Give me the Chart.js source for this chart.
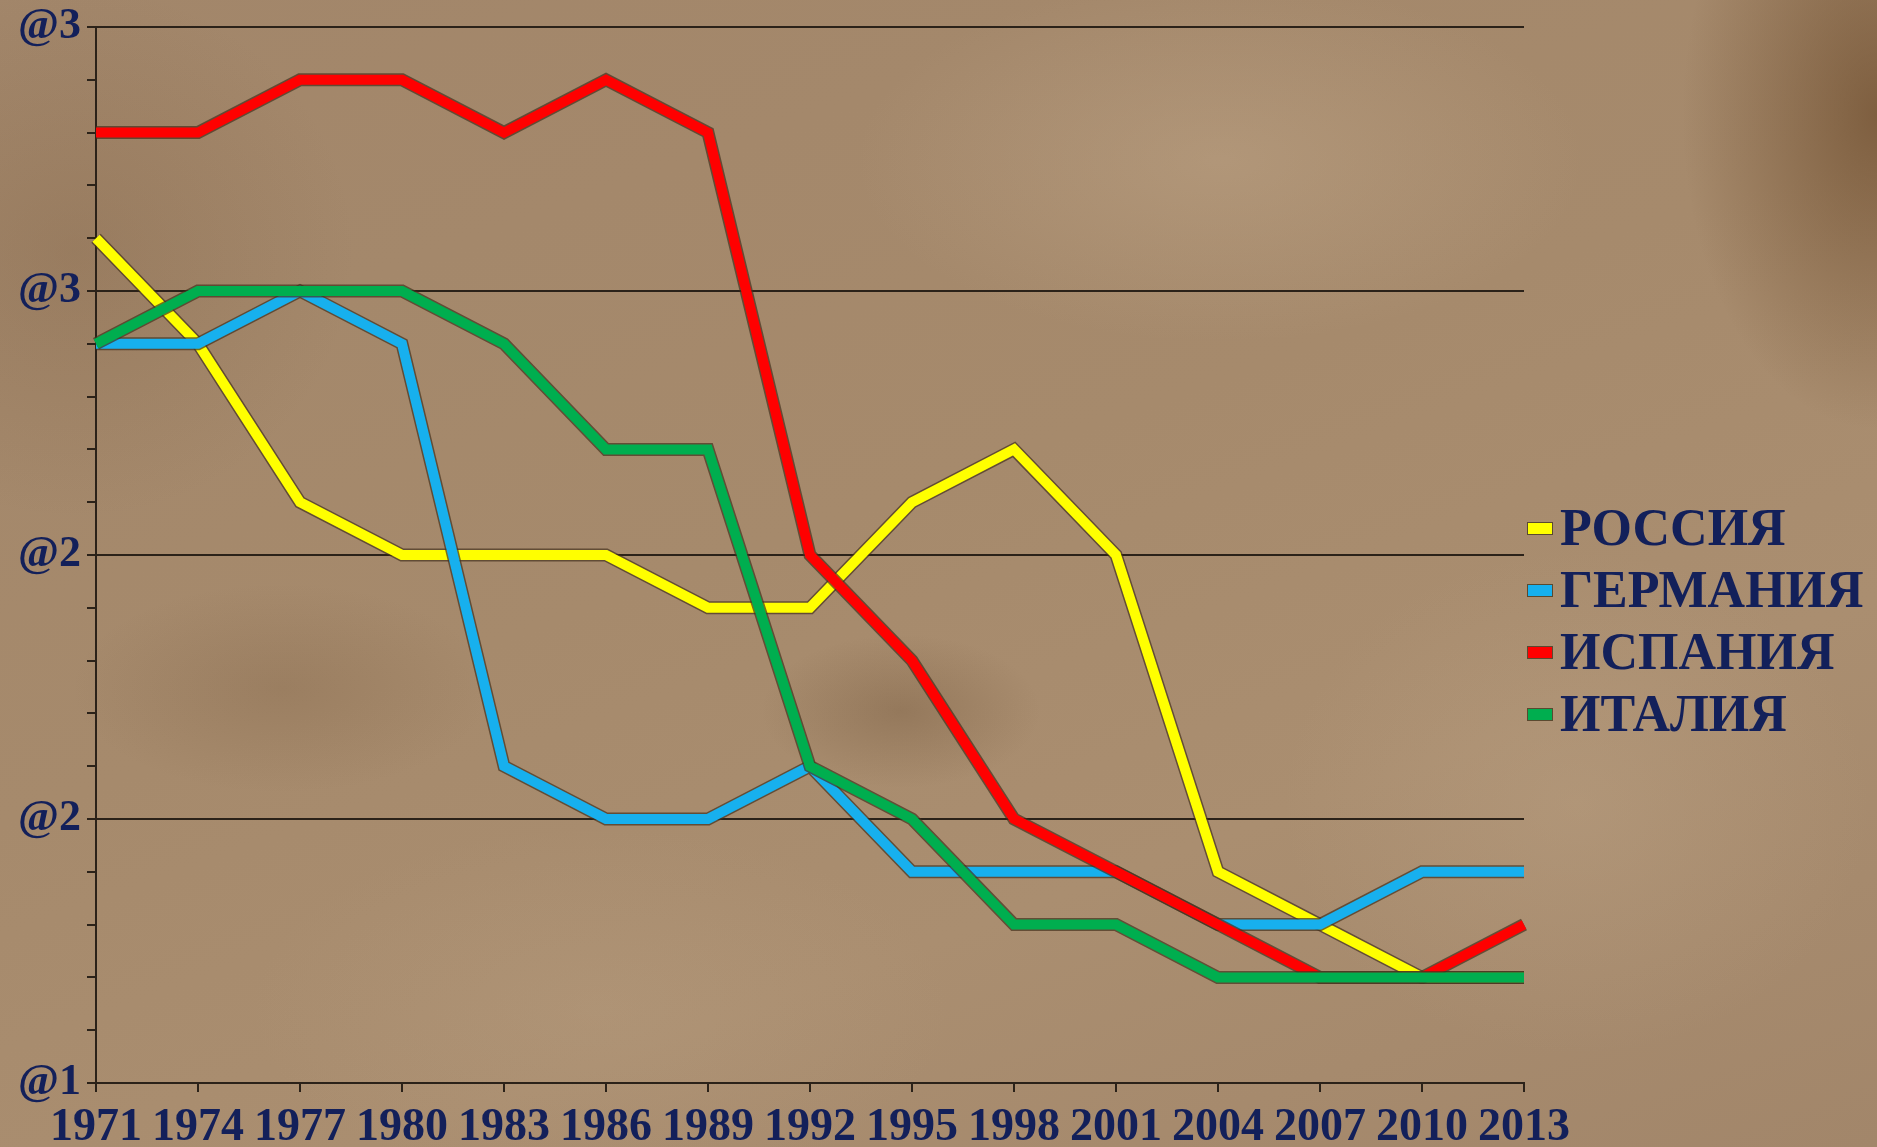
<!DOCTYPE html>
<html>
<head>
<meta charset="utf-8">
<script src="https://cdn.jsdelivr.net/npm/chart.js@4"></script>
<style>
  html, body { margin: 0; padding: 0; }
  body {
    width: 1877px; height: 1147px; overflow: hidden; position: relative;
    background:
      radial-gradient(ellipse 260px 420px at 100% 10%, rgba(100,66,34,0.6), rgba(100,66,34,0) 75%),
      radial-gradient(ellipse 520px 260px at 65% 14%, rgba(200,175,145,0.35), rgba(200,175,145,0) 70%),
      radial-gradient(ellipse 200px 110px at 48% 62%, rgba(90,62,36,0.25), rgba(90,62,36,0) 70%),
      radial-gradient(ellipse 300px 150px at 15% 60%, rgba(110,80,52,0.2), rgba(110,80,52,0) 70%),
      radial-gradient(ellipse 420px 360px at 84% 70%, rgba(195,170,140,0.3), rgba(195,170,140,0) 70%),
      radial-gradient(ellipse 500px 260px at 32% 88%, rgba(190,165,135,0.25), rgba(190,165,135,0) 70%),
      radial-gradient(ellipse 400px 380px at 4% 22%, rgba(120,90,62,0.25), rgba(120,90,62,0) 70%),
      linear-gradient(160deg, #a2866a 0%, #a68a6c 45%, #aa8e70 70%, #a2866a 100%);
  }
  #wrap { position: absolute; left: 0; top: 0; width: 1877px; height: 1147px; }
  #legend {
    position: absolute; left: 1527px; top: 497px;
    font-family: "Liberation Serif", "Times New Roman", serif;
    font-weight: bold; font-size: 52px; color: #13205a;
  }
  .row { height: 62px; line-height: 62px; display: flex; align-items: center; white-space: nowrap; }
  .sw { width: 24px; height: 11px; border: 1px solid #5a4a30; margin-right: 7px; }
</style>
</head>
<body>
<div id="wrap"><canvas id="chart" width="1877" height="1147"></canvas></div>
<div id="legend"></div>
<script>
// Categories and series values (fertility)
const years = ['1971', '1974', '1977', '1980', '1983', '1986', '1989', '1992', '1995', '1998', '2001', '2004', '2007', '2010', '2013'];
const russia = [2.6, 2.4, 2.1, 2.0, 2.0, 2.0, 1.9, 1.9, 2.1, 2.2, 2.0, 1.4, 1.3, 1.2, 1.2];
const germany = [2.4, 2.4, 2.5, 2.4, 1.6, 1.5, 1.5, 1.6, 1.4, 1.4, 1.4, 1.3, 1.3, 1.4, 1.4];
const spain = [2.8, 2.8, 2.9, 2.9, 2.8, 2.9, 2.8, 2.0, 1.8, 1.5, 1.4, 1.3, 1.2, 1.2, 1.3];
const italy = [2.4, 2.5, 2.5, 2.5, 2.4, 2.2, 2.2, 1.6, 1.5, 1.3, 1.3, 1.2, 1.2, 1.2, 1.2];

// Tick labels for the y axis as they are printed (values 1, 1.5, 2, 2.5, 3)
const yTickValues = [1, 1.5, 2, 2.5, 3];
const yTickLabels = ['@1', '@2', '@2', '@3', '@3'];

const seriesNames = ['РОССИЯ', 'ГЕРМАНИЯ', 'ИСПАНИЯ', 'ИТАЛИЯ'];
const seriesColors = ['#ffff00', '#17b0ee', '#ff0000', '#00ae4f'];
const seriesData = [russia, germany, spain, italy];
const drawOrder = [3, 2, 1, 0]; // Italy on top, Russia at the bottom

const axisColor = '#2b2219';
const labelColor = '#13205a';

// Dark outline under each line, drawn from the library's own points
const outlinePlugin = {
  id: 'outline',
  beforeDatasetDraw(chart, args) {
    const meta = args.meta;
    const pts = meta.data;
    if (!pts.length) return;
    const ctx = chart.ctx;
    ctx.save();
    ctx.beginPath();
    ctx.moveTo(pts[0].x, pts[0].y);
    for (let i = 1; i < pts.length; i++) ctx.lineTo(pts[i].x, pts[i].y);
    ctx.lineWidth = meta.dataset.options.borderWidth + 3;
    ctx.strokeStyle = 'rgba(70,50,30,0.7)';
    ctx.lineJoin = 'miter';
    ctx.stroke();
    ctx.restore();
  }
};

const datasets = seriesNames.map((name, i) => ({
  label: name,
  data: seriesData[i],
  borderColor: seriesColors[i],
  backgroundColor: seriesColors[i],
  borderWidth: 10,
  pointRadius: 0,
  tension: 0,
  fill: false,
  order: drawOrder[i]
}));

const isMajor = v => Math.round(v * 10) % 5 === 0;

new Chart(document.getElementById('chart').getContext('2d'), {
  type: 'line',
  data: { labels: years, datasets: datasets },
  options: {
    responsive: false,
    animation: false,
    layout: { padding: { left: 0, top: 0, right: 353, bottom: 0 } },
    plugins: { legend: { display: false }, tooltip: { enabled: false } },
    scales: {
      x: {
        offset: false,
        border: { color: axisColor, width: 2 },
        grid: { drawOnChartArea: false, drawTicks: true, tickLength: 9, color: axisColor, lineWidth: 2 },
        ticks: {
          autoSkip: false, maxRotation: 0, minRotation: 0, padding: 9,
          color: labelColor,
          font: { family: '"Liberation Serif", "Times New Roman", serif', size: 46, weight: 'bold' }
        },
        afterFit(scale) { scale.height = 64; }
      },
      y: {
        min: 1, max: 3,
        border: { color: axisColor, width: 2 },
        grid: {
          color: ctx => isMajor(ctx.tick.value) ? axisColor : 'rgba(0,0,0,0)',
          tickColor: axisColor,
          lineWidth: 2,
          tickLength: 9
        },
        ticks: {
          stepSize: 0.1,
          autoSkip: false,
          padding: 6,
          color: labelColor,
          font: { family: '"Liberation Serif", "Times New Roman", serif', size: 44, weight: 'bold', lineHeight: 1.1 },
          callback: value => {
            const idx = yTickValues.findIndex(v => Math.abs(v - value) < 1e-6);
            return idx >= 0 ? yTickLabels[idx] : '';
          }
        },
        afterFit(scale) {
          scale.width = 96;
          scale.paddingTop = 27;
        }
      }
    }
  },
  plugins: [outlinePlugin]
});

// Legend built from the same series arrays
const legend = document.getElementById('legend');
seriesNames.forEach((name, i) => {
  const row = document.createElement('div');
  row.className = 'row';
  row.innerHTML = `<span class="sw" style="background:${seriesColors[i]}"></span><span>${name}</span>`;
  legend.appendChild(row);
});
</script>
</body>
</html>
